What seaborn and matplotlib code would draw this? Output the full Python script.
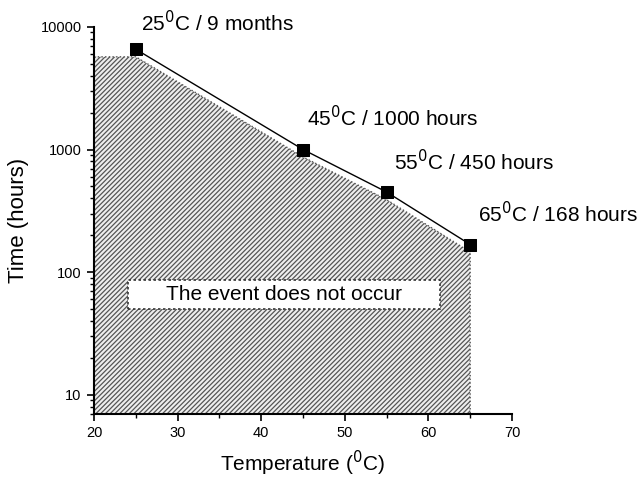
import matplotlib
matplotlib.use("Agg")
import matplotlib.pyplot as plt
import seaborn as sns
import pandas as pd
from matplotlib.patches import Rectangle
from matplotlib.ticker import FixedLocator, LogLocator, NullFormatter, MultipleLocator

sns.set_style("ticks")
plt.rcParams['font.family'] = ['Liberation Sans', 'DejaVu Sans']
plt.rcParams['text.color'] = 'black'
plt.rcParams['axes.labelcolor'] = 'black'
plt.rcParams['xtick.color'] = 'black'
plt.rcParams['ytick.color'] = 'black'
plt.rcParams['axes.edgecolor'] = 'black'
plt.rcParams['hatch.linewidth'] = 0.9
plt.rcParams['hatch.color'] = '#8a8a8a'

# data points
temps = [25, 45, 55, 65]
times = [6570, 1000, 450, 168]
point_labels = ["25$^0$C / 9 months", "45$^0$C / 1000 hours",
                "55$^0$C / 450 hours", "65$^0$C / 168 hours"]

# boundary of the "event does not occur" region
region_temp = [20, 25, 45, 55, 65, 65, 20]
region_time = [5700, 5700, 870, 390, 146, 7, 7]

x_ticks = [20, 30, 40, 50, 60, 70]
y_ticks = [10, 100, 1000, 10000]

df = pd.DataFrame({"Temperature": temps, "Time": times})

fig = plt.figure(figsize=(6.44, 4.8), dpi=100)
ax = fig.add_axes([0.146, 0.138, 0.649, 0.806])

ax.fill(region_temp, region_time, facecolor='#eeeeee', edgecolor='#555555',
        hatch='///////', linewidth=1.0, linestyle=':', zorder=1)

sns.lineplot(data=df, x="Temperature", y="Time", color='black', linewidth=1.0,
             ax=ax, zorder=2, sort=False)
sns.scatterplot(data=df, x="Temperature", y="Time", marker='s', s=85,
                color='black', edgecolor='black', ax=ax, zorder=3)

ax.set_yscale('log')
ax.set_xlim(20, 70)
ax.set_ylim(7, 10000)

offsets = [(0.6, 1.3), (0.5, 1.45), (0.9, 1.4), (0.9, 1.4)]
for t, h, lab, (dx, fy) in zip(temps, times, point_labels, offsets):
    ax.text(t + dx, h * fy, lab, fontsize=15, ha='left', va='bottom', zorder=4)

# annotation box
box_x0, box_x1, box_y0, box_y1 = 24.1, 61.4, 50, 86
ax.add_patch(Rectangle((box_x0, box_y0), box_x1 - box_x0, box_y1 - box_y0,
                       facecolor='white', edgecolor='#333333', linestyle=(0, (1.5, 1.5)),
                       linewidth=1.2, zorder=4))
ax.text((box_x0 + box_x1) / 2, (box_y0 * box_y1) ** 0.5, "The event does not occur",
        fontsize=15, ha='center', va='center', zorder=5)

ax.xaxis.set_major_locator(FixedLocator(x_ticks))
ax.xaxis.set_minor_locator(MultipleLocator(5))
ax.yaxis.set_major_locator(FixedLocator(y_ticks))
ax.yaxis.set_minor_locator(LogLocator(base=10, subs=range(2, 10)))
ax.yaxis.set_minor_formatter(NullFormatter())
ax.set_yticklabels([str(v) for v in y_ticks])

ax.tick_params(axis='both', which='major', labelsize=10.5, length=5, width=1.2,
               direction='out', pad=4)
ax.tick_params(axis='both', which='minor', length=3, width=1.0, direction='out')

for s in ['top', 'right']:
    ax.spines[s].set_visible(False)
for s in ['left', 'bottom']:
    ax.spines[s].set_linewidth(1.5)

ax.set_xlabel("Temperature ($^0$C)", fontsize=15, labelpad=6)
ax.set_ylabel("Time (hours)", fontsize=16, labelpad=8)

fig.savefig("out.png", dpi=100)
